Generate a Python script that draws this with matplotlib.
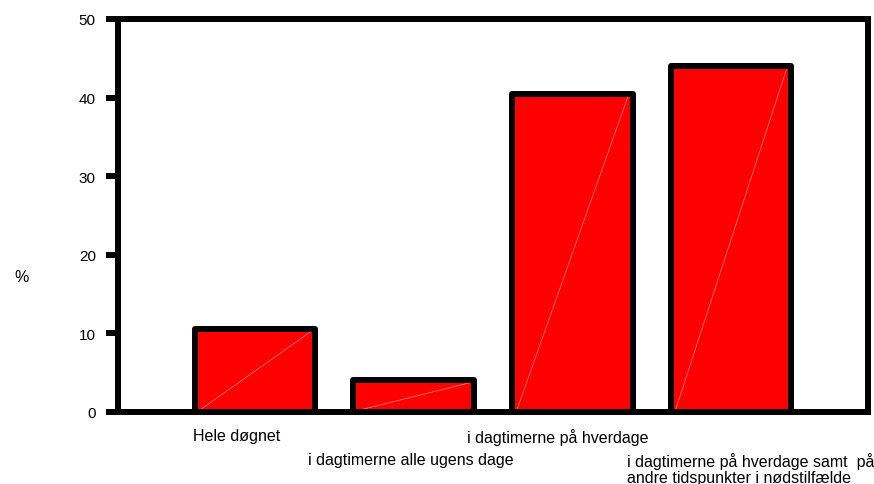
import matplotlib
matplotlib.use("Agg")
import matplotlib.pyplot as plt

categories = [
    "Hele døgnet",
    "i dagtimerne alle ugens dage",
    "i dagtimerne på hverdage",
    "i dagtimerne på hverdage samt  på\nandre tidspunkter i nødstilfælde",
]
values = [10.6, 4.1, 40.5, 44.0]
yticks = [0, 10, 20, 30, 40, 50]

plt.rcParams["font.family"] = ["Liberation Sans", "DejaVu Sans"]

fig = plt.figure(figsize=(8.74, 4.85), dpi=100)
ax = fig.add_axes([0.135, 0.1485, 0.858, 0.8103])

x = list(range(len(values)))
width = 0.76
bars = ax.bar(x, values, width=width, color="#ff0000", edgecolor="black",
              linewidth=4.3, zorder=2)
for b in bars:
    b.set_joinstyle("round")

# thin diagonal inside each bar
for xi, v in zip(x, values):
    ax.plot([xi - width / 2 + 0.03, xi + width / 2 - 0.03], [0.2, v - 0.4],
            color="#ff8a8a", lw=0.5, zorder=3)

ax.set_xlim(-0.863, 3.863)
ax.set_ylim(0, 50)
ax.set_yticks(yticks)
ax.set_xticks([])
ax.tick_params(axis="y", direction="out", length=9, width=4.3, pad=7,
               labelsize=11)
for s in ax.spines.values():
    s.set_linewidth(4.3)
    s.set_zorder(4)

ax.set_ylabel("%", rotation=0, fontsize=11.5, labelpad=0)
ax.yaxis.set_label_coords(-0.128, 0.325)

# staggered category labels, left edges in data units
label_x = [-0.39, 0.334, 1.336, 2.344]
label_y = [-0.04, -0.103, -0.04, -0.103]
for lx, ly, txt in zip(label_x, label_y, categories):
    ax.text(lx, ly, txt, transform=ax.get_xaxis_transform(), ha="left",
            va="top", fontsize=11.5, linespacing=1.05)

fig.savefig("out.png", dpi=100)
